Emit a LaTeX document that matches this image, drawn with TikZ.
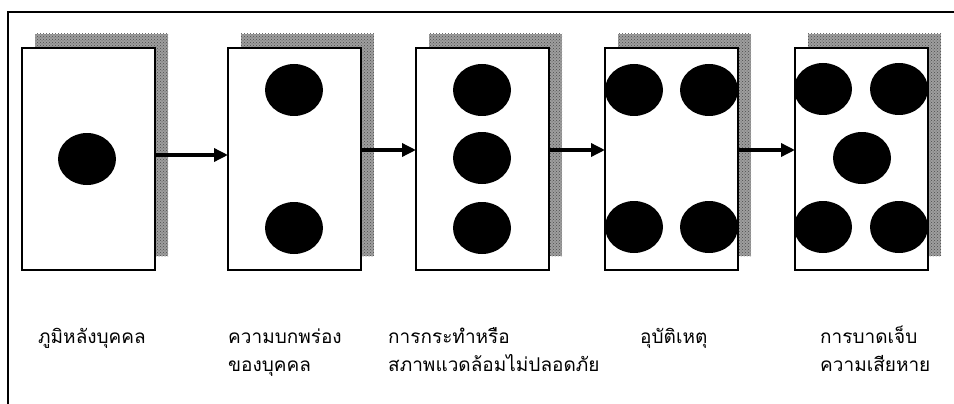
\documentclass[tikz,border=0pt]{standalone}
\usepackage{fontspec}
\newfontfamily\thaifont[Script=Thai]{Loma}
\usetikzlibrary{shapes.geometric,arrows.meta,patterns}
\begin{document}
\begin{tikzpicture}[x=1pt,y=-1pt,
 card/.style={draw=black, line width=1.4pt, fill=white, minimum width=133pt, minimum height=222pt, anchor=north west, inner sep=0pt, outer sep=0pt},
 shadowbox/.style={fill=black!38, postaction={pattern=crosshatch dots, pattern color=black!70}, minimum width=133pt, minimum height=222pt, anchor=north west, inner sep=0pt, outer sep=0pt},
 dot/.style={ellipse, fill=black, minimum width=58pt, minimum height=52pt, inner sep=0pt},
 flow/.style={line width=3.4pt, -{Triangle[length=14pt,width=13pt]}},
 lbl/.style={anchor=base west, inner sep=0pt, font=\thaifont\fontsize{19}{22}\selectfont},
 frame/.style={draw=black, line width=1.4pt}]
\useasboundingbox (0,0) rectangle (954,404);
\fill[white] (0,0) rectangle (954,404);
\draw[frame] (8,404) -- (8,12) -- (954,12);
% shadows
\foreach \x/\n in {22/1,228/2,416/3,605/4,795/5}{
  \node[shadowbox] (s\n) at (\x+13,34) {};
}
% cards
\node[card] (c1) at (22,48) {};
\node[card] (c2) at (228,48) {};
\node[card] (c3) at (416,48) {};
\node[card] (c4) at (605,48) {};
\node[card] (c5) at (795,48) {};
% dots
\node[dot] (d11) at (87,159) {};
\node[dot] (d21) at (294,90) {};
\node[dot] (d22) at (294,228) {};
\node[dot] (d31) at (482,90) {};
\node[dot] (d32) at (482,158) {};
\node[dot] (d33) at (482,228) {};
\node[dot] (d41) at (634,90) {};
\node[dot] (d42) at (709,90) {};
\node[dot] (d43) at (634,227) {};
\node[dot] (d44) at (709,227) {};
\node[dot] (d51) at (823,89) {};
\node[dot] (d52) at (899,89) {};
\node[dot] (d53) at (862,158) {};
\node[dot] (d54) at (823,227) {};
\node[dot] (d55) at (899,227) {};
% arrows
\draw[flow] ([yshift=4pt]c1.east) -- ([yshift=4pt]c2.west);
\draw[flow] ([yshift=9pt]c2.east) -- ([yshift=9pt]c3.west);
\draw[flow] ([yshift=9pt]c3.east) -- ([yshift=9pt]c4.west);
\draw[flow] ([yshift=9pt]c4.east) -- ([yshift=9pt]c5.west);
% labels
\node[lbl] (t1) at (38,343) {ภูมิหลังบุคคล};
\node[lbl] (t2a) at (228,343) {ความบกพร่อง};
\node[lbl] (t2b) at (228,371) {ของบุคคล};
\node[lbl] (t3a) at (388,343) {การกระทำหรือ};
\node[lbl] (t3b) at (388,371) {สภาพแวดล้อมไม่ปลอดภัย};
\node[lbl] (t4) at (640,343) {อุบัติเหตุ};
\node[lbl] (t5a) at (820,343) {การบาดเจ็บ};
\node[lbl] (t5b) at (820,371) {ความเสียหาย};
\end{tikzpicture}
\end{document}
